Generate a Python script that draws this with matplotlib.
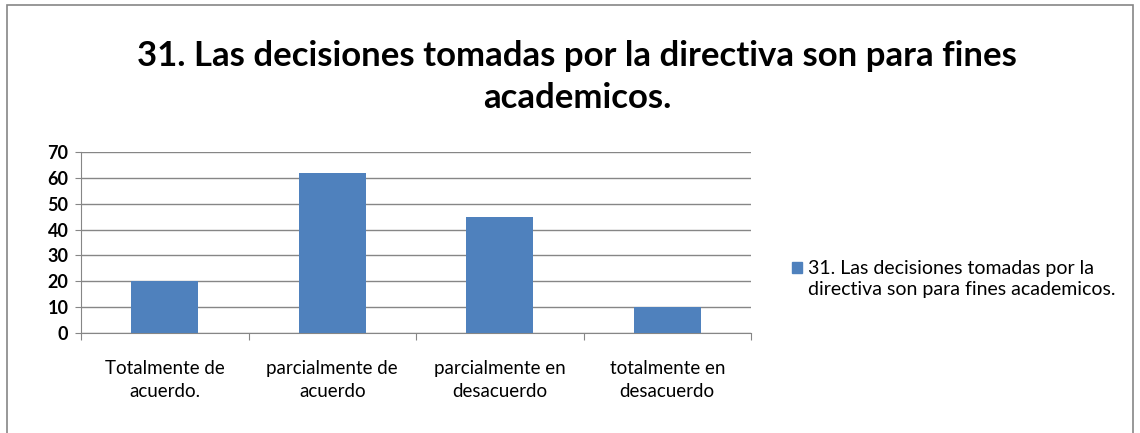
import matplotlib
matplotlib.use("Agg")
import matplotlib.pyplot as plt
from matplotlib.patches import Rectangle

plt.rcParams['font.family'] = ['Lato', 'DejaVu Sans']

# data
categorias = ["Totalmente de\nacuerdo.", "parcialmente de\nacuerdo",
              "parcialmente en\ndesacuerdo", "totalmente en\ndesacuerdo"]
valores = [20, 62, 45, 10]
serie = "31. Las decisiones tomadas por la\ndirectiva son para fines academicos."
titulo = "31. Las decisiones tomadas por la directiva son para fines\nacademicos."
yticks = [0, 10, 20, 30, 40, 50, 60, 70]

color_barra = "#4F81BD"

fig = plt.figure(figsize=(11.4, 4.33), dpi=100)
# frame around the chart area
fig.patches.append(Rectangle((0.006, -0.01), 0.988, 0.998, transform=fig.transFigure,
                             fill=False, edgecolor="#868686", linewidth=1.2))

ax = fig.add_axes([81/1140, 1 - 333/433, 670/1140, 181/433])
x = range(len(categorias))
ax.bar(x, valores, width=0.4, color=color_barra, zorder=3)

ax.set_xlim(-0.5, len(categorias) - 0.5)
ax.set_ylim(0, 70)
ax.set_yticks(yticks)
ax.set_yticklabels([str(v) for v in yticks], fontsize=13, fontweight="bold")
ax.yaxis.grid(True, color="#868686", linewidth=1.0, zorder=0)
ax.tick_params(axis="y", length=4, color="#868686", pad=5)

# category labels, ticks between categories
ax.set_xticks([i - 0.5 for i in range(len(categorias) + 1)])
ax.set_xticklabels([])
ax.tick_params(axis="x", length=5, color="#868686", direction="out")
for i, c in enumerate(categorias):
    ax.text(i, -10.5, c, ha="center", va="top", fontsize=13.5, linespacing=1.45,
            transform=ax.transData)

for s in ["top", "right"]:
    ax.spines[s].set_visible(False)
ax.spines["left"].set_color("#868686")
ax.spines["bottom"].set_color("#868686")

fig.text(0.506, 1 - 77/433, titulo, ha="center", va="center", fontsize=25,
         fontweight="bold", linespacing=1.35)

# legend
fig.patches.append(Rectangle((792/1140, 1 - 273/433), 10/1140, 11/433,
                             transform=fig.transFigure, color=color_barra))
fig.text(808/1140, 1 - 279/433, serie, ha="left", va="center", fontsize=14,
         linespacing=1.35)

fig.savefig("out.png", dpi=100)
